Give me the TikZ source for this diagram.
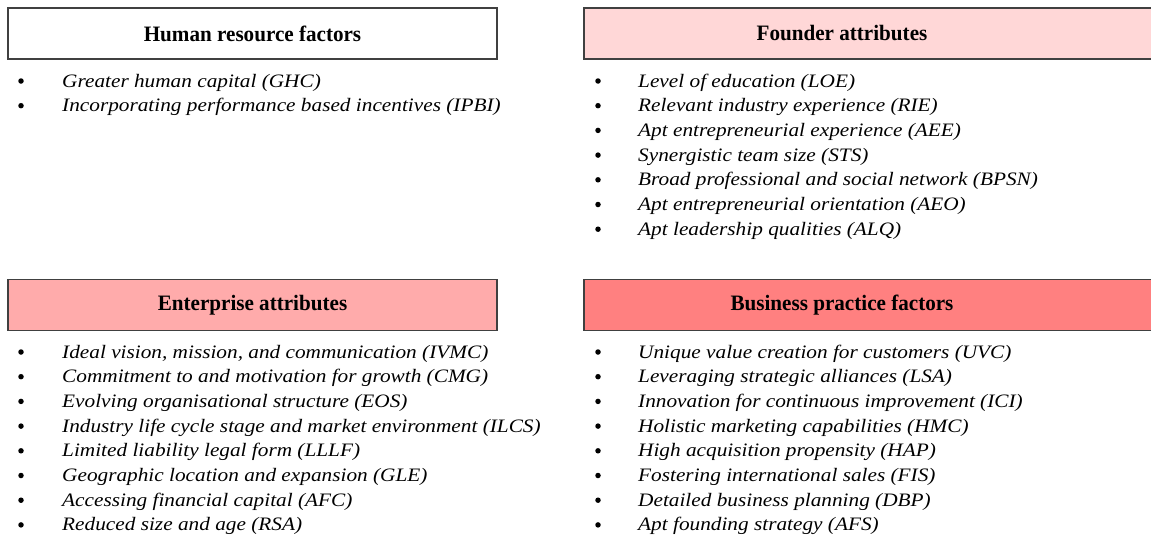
\documentclass[tikz,border=0pt]{standalone}
\usepackage{fontspec}
\setmainfont{Liberation Serif}
\newfontfamily\itemfont[FakeStretch=1.12]{Liberation Serif}
\newfontfamily\hdrfont[FakeStretch=0.96]{Liberation Serif}
\definecolor{boxline}{HTML}{404040}
\definecolor{pinkA}{HTML}{FFD7D7}
\definecolor{pinkB}{HTML}{FFABAB}
\definecolor{pinkC}{HTML}{FF8080}
\tikzset{
  hdr/.style={draw=boxline, line width=1.3pt, rectangle, minimum height=51pt, inner sep=0pt},
  hdrtext/.style={font=\fontsize{22}{26}\selectfont\hdrfont\bfseries, text=black},
  item/.style={anchor=base west, inner sep=0pt, font=\fontsize{19}{22}\selectfont\itemfont\itshape},
  bul/.style={circle, fill=black, inner sep=0pt, minimum size=5.5pt},
}
\begin{document}
\begin{tikzpicture}[x=1pt,y=-1pt]
\useasboundingbox (0,0) rectangle (1151,541);
\clip (0,0) rectangle (1151,541);
% headers
\node[hdr, fill=white, minimum width=489pt] (hr) at (252.5,33.5) {};
\node[hdrtext] (hrt) at (hr.center) {Human resource factors};
\node[hdr, fill=pinkA, minimum width=580pt] (fa) at (874,33.5) {};
\node[hdrtext] (fat) at (842,33.5) {Founder attributes};
\node[hdr, fill=pinkB, minimum width=489pt] (ea) at (252.5,305) {};
\node[hdrtext] (eat) at (ea.center) {Enterprise attributes};
\node[hdr, fill=pinkC, minimum width=580pt] (bp) at (874,305) {};
\node[hdrtext] (bpt) at (842,305) {Business practice factors};
% lists
\foreach \t [count=\i] in {Greater human capital (GHC), Incorporating performance based incentives (IPBI)}{
  \node[bul] (hrb\i) at (21,{81+24.7*(\i-1)}) {};
  \node[item] (hri\i) at (62,{87+24.7*(\i-1)}) {\t};
}
\foreach \t [count=\i] in {Level of education (LOE), Relevant industry experience (RIE), Apt entrepreneurial experience (AEE), Synergistic team size (STS), Broad professional and social network (BPSN), Apt entrepreneurial orientation (AEO), Apt leadership qualities (ALQ)}{
  \node[bul] (fab\i) at (598,{81+24.7*(\i-1)}) {};
  \node[item] (fai\i) at (638,{87+24.7*(\i-1)}) {\t};
}
\foreach \t [count=\i] in {{Ideal vision, mission, and communication (IVMC)}, Commitment to and motivation for growth (CMG), Evolving organisational structure (EOS), Industry life cycle stage and market environment (ILCS), Limited liability legal form (LLLF), Geographic location and expansion (GLE), Accessing financial capital (AFC), Reduced size and age (RSA)}{
  \node[bul] (eab\i) at (21,{352+24.7*(\i-1)}) {};
  \node[item] (eai\i) at (62,{358+24.7*(\i-1)}) {\t};
}
\foreach \t [count=\i] in {Unique value creation for customers (UVC), Leveraging strategic alliances (LSA), Innovation for continuous improvement (ICI), Holistic marketing capabilities (HMC), High acquisition propensity (HAP), Fostering international sales (FIS), Detailed business planning (DBP), Apt founding strategy (AFS)}{
  \node[bul] (bpb\i) at (598,{352+24.7*(\i-1)}) {};
  \node[item] (bpi\i) at (638,{358+24.7*(\i-1)}) {\t};
}
\end{tikzpicture}
\end{document}
